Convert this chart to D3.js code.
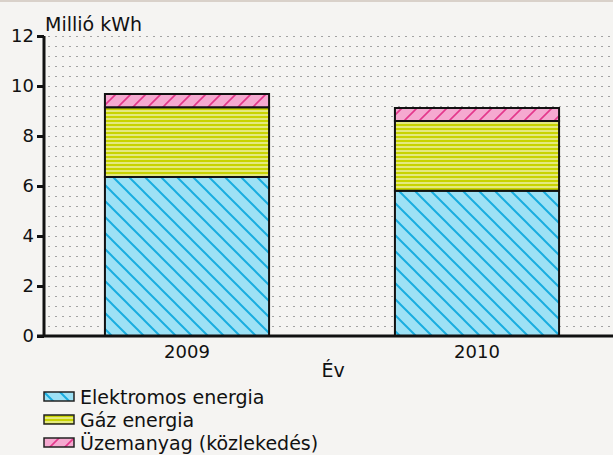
<!DOCTYPE html>
<html lang="hu">
<head>
<meta charset="utf-8">
<title>Energia</title>
<script src="https://d3js.org/d3.v7.min.js"></script>
<style>
  body { margin: 0; background: #f5f4f2; }
  svg { display: block; }
  text { font-family: 'DejaVu Sans', sans-serif; fill: #111; }
</style>
</head>
<body>
<svg id="chart" width="613" height="455"></svg>
<script>
// data
var years = ["2009", "2010"];
var elektromos = [6.36, 5.81];
var gaz = [2.79, 2.79];
var uzemanyag = [0.53, 0.52];
var seriesNames = ["Elektromos energia", "Gáz energia", "Üzemanyag (közlekedés)"];
var yTicks = [0, 2, 4, 6, 8, 10, 12];

var svg = d3.select("#chart");

svg.append("rect").attr("x", 0).attr("y", 0).attr("width", 613).attr("height", 2).attr("fill", "#d9d1ca");

var defs = svg.append("defs");

// blue diagonal "\"
var pb = defs.append("pattern").attr("id", "pBlue").attr("patternUnits", "userSpaceOnUse")
  .attr("width", 16).attr("height", 16);
pb.append("rect").attr("width", 16).attr("height", 16).attr("fill", "#9de1f5");
pb.append("path").attr("d", "M0,0L16,16M-8,8L8,24M8,-8L24,8")
  .attr("stroke", "#19ade0").attr("stroke-width", 2);

// yellow horizontal stripes
var py = defs.append("pattern").attr("id", "pYellow").attr("patternUnits", "userSpaceOnUse")
  .attr("width", 4).attr("height", 4);
py.append("rect").attr("width", 4).attr("height", 4).attr("fill", "#e4e97e");
py.append("rect").attr("width", 4).attr("height", 2).attr("fill", "#c8d300");

// pink diagonal "/"
var pp = defs.append("pattern").attr("id", "pPink").attr("patternUnits", "userSpaceOnUse")
  .attr("width", 15).attr("height", 15);
pp.append("rect").attr("width", 15).attr("height", 15).attr("fill", "#f5a9d0");
pp.append("path").attr("d", "M0,15L15,0M-7.5,7.5L7.5,-7.5M7.5,22.5L22.5,7.5")
  .attr("stroke", "#e4388c").attr("stroke-width", 1.6);

var fills = ["url(#pBlue)", "url(#pYellow)", "url(#pPink)"];

var x = d3.scaleBand().domain(years).range([42, 622]).paddingInner(0.434).paddingOuter(0.217);
var y = d3.scaleLinear().domain([0, 12]).range([336, 36]);

// dotted grid every 0.4
var grid = d3.range(1, 31).map(function(i) { return +(i * 0.4).toFixed(1); });
svg.append("g").selectAll("line").data(grid).enter().append("line")
  .attr("x1", 48).attr("x2", 613)
  .attr("y1", function(d) { return Math.round(y(d)) + 0.5; })
  .attr("y2", function(d) { return Math.round(y(d)) + 0.5; })
  .attr("stroke", "#a3a3a3").attr("stroke-dasharray", "2,5");

// stacked bars
var stack = years.map(function(yr, i) {
  var vals = [elektromos[i], gaz[i], uzemanyag[i]];
  var base = 0;
  return vals.map(function(v, k) {
    var seg = { year: yr, k: k, y0: base, y1: base + v };
    base += v;
    return seg;
  });
});
var segs = [].concat.apply([], stack);

svg.append("g").selectAll("rect").data(segs).enter().append("rect")
  .attr("x", function(d) { return x(d.year); })
  .attr("width", x.bandwidth())
  .attr("y", function(d) { return y(d.y1); })
  .attr("height", function(d) { return y(d.y0) - y(d.y1); })
  .attr("fill", function(d) { return fills[d.k]; })
  .attr("stroke", "#111").attr("stroke-width", 2);

// y axis
var yAxis = svg.append("g").attr("transform", "translate(44,0)")
  .call(d3.axisLeft(y).tickValues(yTicks).tickSize(7).tickPadding(3));
yAxis.select(".domain").remove();
yAxis.selectAll(".tick line").attr("stroke", "#111").attr("stroke-width", 3);
yAxis.selectAll(".tick text").style("font-size", "18px").attr("font-family", null);
svg.append("line").attr("x1", 44).attr("x2", 44).attr("y1", 36).attr("y2", 337)
  .attr("stroke", "#111").attr("stroke-width", 3);

// x axis
svg.append("line").attr("x1", 37).attr("x2", 613).attr("y1", 336).attr("y2", 336)
  .attr("stroke", "#111").attr("stroke-width", 3);
svg.append("g").selectAll("text").data(years).enter().append("text")
  .attr("x", function(d) { return x(d) + x.bandwidth() / 2; })
  .attr("y", 358).attr("text-anchor", "middle").style("font-size", "18px")
  .text(function(d) { return d; });

svg.append("text").attr("x", 45).attr("y", 31).style("font-size", "19px").text("Millió kWh");
svg.append("text").attr("x", 333).attr("y", 377).attr("text-anchor", "middle").style("font-size", "19px").text("Év");

// legend
var leg = svg.append("g").selectAll("g").data(seriesNames).enter().append("g")
  .attr("transform", function(d, i) { return "translate(44," + (392 + i * 23) + ")"; });
leg.append("rect").attr("width", 30).attr("height", 9)
  .attr("fill", function(d, i) { return fills[i]; })
  .attr("stroke", "#222").attr("stroke-width", 1.5);
leg.append("text").attr("x", 36).attr("y", 12).style("font-size", "19px").text(function(d) { return d; });
</script>
</body>
</html>
